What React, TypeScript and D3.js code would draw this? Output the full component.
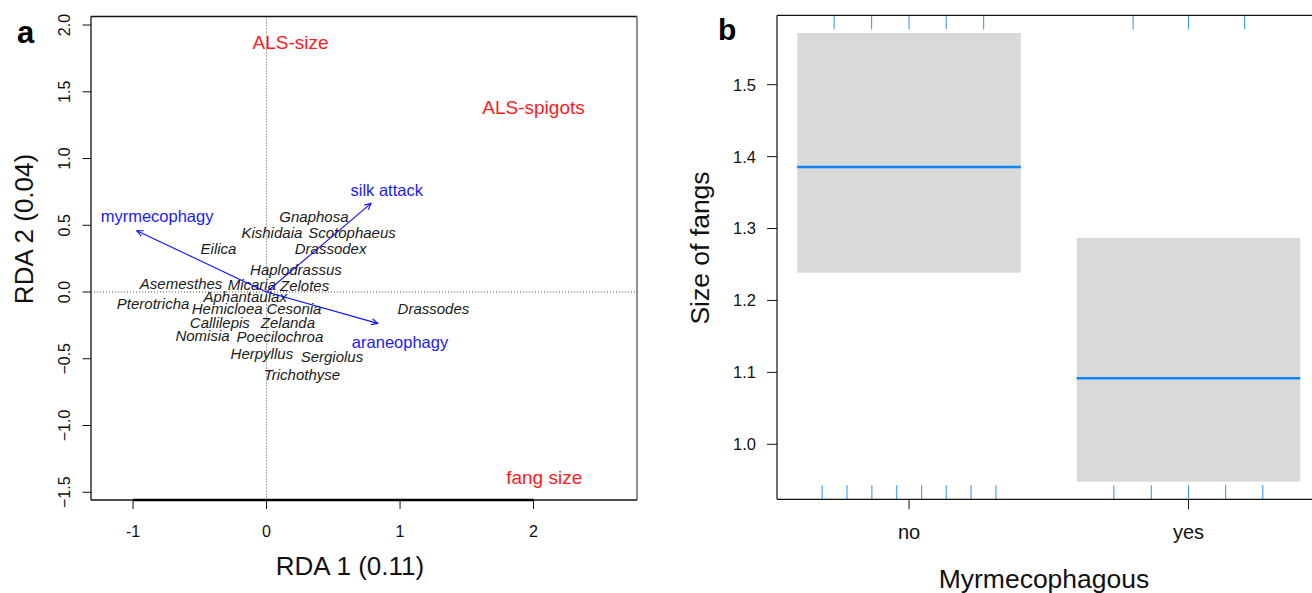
import React from 'react';
import * as d3 from 'd3';

// ---- panel a: RDA biplot ----
const speciesNames = ['Gnaphosa', 'Kishidaia', 'Scotophaeus', 'Eilica', 'Drassodex', 'Haplodrassus',
  'Asemesthes', 'Micaria', 'Zelotes', 'Aphantaulax', 'Pterotricha', 'Hemicloea', 'Cesonia', 'Drassodes',
  'Callilepis', 'Zelanda', 'Nomisia', 'Poecilochroa', 'Herpyllus', 'Sergiolus', 'Trichothyse'];
const speciesX = [0.355, 0.04, 0.64, -0.36, 0.48, 0.22, -0.64, -0.11, 0.285, -0.16, -0.85, -0.295, 0.205, 1.25,
  -0.35, 0.16, -0.48, 0.10, -0.035, 0.49, 0.265];
const speciesY = [0.56, 0.44, 0.44, 0.32, 0.322, 0.165, 0.058, 0.05, 0.045, -0.035, -0.092, -0.13, -0.125, -0.13,
  -0.235, -0.235, -0.33, -0.335, -0.465, -0.485, -0.622];

const envNames = ['silk attack', 'myrmecophagy', 'araneophagy'];
const envTipX = [0.783, -0.972, 0.833];
const envTipY = [0.664, 0.459, -0.235];
const envLabelX = [0.90, -0.82, 1.0];
const envLabelY = [0.757, 0.562, -0.382];

const traitNames = ['ALS-size', 'ALS-spigots', 'fang size'];
const traitX = [0.18, 2.0, 2.08];
const traitY = [1.867, 1.38, -1.39];

const rdaXTicks = [-1, 0, 1, 2];
const rdaYTicks = [-1.5, -1.0, -0.5, 0.0, 0.5, 1.0, 1.5, 2.0];

// ---- panel b: effect plot ----
const groups = ['no', 'yes'];
const fitValues = [1.3856, 1.0918];
const lowerCI = [1.2386, 0.948];
const upperCI = [1.572, 1.287];
const rugTop = [0.732, 0.866, 1.0, 1.133, 1.267, 1.802, 2.0, 2.201];
const rugBottom = [0.689, 0.778, 0.867, 0.956, 1.045, 1.133, 1.222, 1.311, 1.733, 1.867, 2.0, 2.133, 2.266];
const fangTicks = [1.0, 1.1, 1.2, 1.3, 1.4, 1.5];

const FONT = '"Liberation Sans", Arial, Helvetica, sans-serif';

function arrowHead(x1: number, y1: number, x2: number, y2: number, len = 7) {
  const a = Math.atan2(y2 - y1, x2 - x1);
  const s = Math.PI / 7;
  const p1 = [x2 - len * Math.cos(a - s), y2 - len * Math.sin(a - s)];
  const p2 = [x2 - len * Math.cos(a + s), y2 - len * Math.sin(a + s)];
  return `M${p1[0]},${p1[1]}L${x2},${y2}L${p2[0]},${p2[1]}`;
}

function PanelA() {
  const left = 91, right = 637, top = 16.5, bottom = 500;
  const x = d3.scaleLinear().domain([-1.315, 2.775]).range([left, right]);
  const y = d3.scaleLinear().domain([-1.558, 2.064]).range([bottom, top]);
  const fmt = d3.format('.1f');

  return (
    <g fontFamily={FONT}>
      <text x={17} y={43} fontSize={31} fontWeight="bold" fill="#000">a</text>

      {/* reference lines through origin */}
      <line x1={x(0)} x2={x(0)} y1={top} y2={bottom} stroke="#444" strokeWidth={0.9} strokeDasharray="1,2" />
      <line x1={left} x2={right} y1={y(0)} y2={y(0)} stroke="#444" strokeWidth={0.9} strokeDasharray="1,2" />

      {/* species scores */}
      {speciesNames.map((n, i) => (
        <text key={n} x={x(speciesX[i])} y={y(speciesY[i])} dy="0.33em" textAnchor="middle"
          fontSize={15} fontStyle="italic" fill="#1a1a1a">{n}</text>
      ))}

      {/* environmental arrows */}
      {envNames.map((n, i) => {
        const x0 = x(0), y0 = y(0), x1 = x(envTipX[i]), y1 = y(envTipY[i]);
        return (
          <g key={n}>
            <line x1={x0} y1={y0} x2={x1} y2={y1} stroke="#1010ff" strokeWidth={1.1} />
            <path d={arrowHead(x0, y0, x1, y1)} fill="none" stroke="#1010ff" strokeWidth={1.1} />
            <text x={x(envLabelX[i])} y={y(envLabelY[i])} dy="0.33em" textAnchor="middle"
              fontSize={16.5} fill="#1a1aff">{n}</text>
          </g>
        );
      })}

      {/* trait labels */}
      {traitNames.map((n, i) => (
        <text key={n} x={x(traitX[i])} y={y(traitY[i])} dy="0.33em" textAnchor="middle"
          fontSize={19} fill="#ff1a1a">{n}</text>
      ))}

      {/* box */}
      <line x1={left} x2={right} y1={top} y2={top} stroke="#111" strokeWidth={1.3} />
      <line x1={left} x2={left} y1={top} y2={bottom} stroke="#111" strokeWidth={1.3} />
      <line x1={right} x2={right} y1={top} y2={bottom} stroke="#777" strokeWidth={1.6} />
      <line x1={left} x2={right} y1={bottom} y2={bottom} stroke="#111" strokeWidth={1.3} />

      {/* x axis */}
      <line x1={x(-1)} x2={x(2)} y1={bottom} y2={bottom} stroke="#000" strokeWidth={2.4} />
      {rdaXTicks.map(t => (
        <g key={t}>
          <line x1={x(t)} x2={x(t)} y1={bottom} y2={bottom + 9} stroke="#111" strokeWidth={1} />
          <text x={x(t)} y={537} textAnchor="middle" fontSize={16} fill="#111">{t}</text>
        </g>
      ))}
      <text x={350} y={575} textAnchor="middle" fontSize={26} fill="#111">RDA 1 (0.11)</text>

      {/* y axis */}
      {rdaYTicks.map(t => (
        <g key={t}>
          <line x1={left - 8.5} x2={left} y1={y(t)} y2={y(t)} stroke="#111" strokeWidth={1} />
          <text transform={`translate(70,${y(t)}) rotate(-90)`} textAnchor="middle" fontSize={16} fill="#111">{fmt(t)}</text>
        </g>
      ))}
      <text transform={`translate(33,229) rotate(-90)`} textAnchor="middle" fontSize={26} fill="#111">RDA 2 (0.04)</text>
    </g>
  );
}

function PanelB() {
  const left = 777, right = 1320.5, top = 15.3, bottom = 499.3;
  const x = d3.scaleLinear().domain([0.5275, 2.4725]).range([left, right]);
  const y = d3.scaleLinear().domain([0.9235, 1.5965]).range([bottom, top]);
  const half = 0.4;
  const fmt = d3.format('.1f');

  return (
    <g fontFamily={FONT}>
      <text x={718} y={40} fontSize={30} fontWeight="bold" fill="#000">b</text>

      {groups.map((g, i) => (
        <g key={g}>
          <rect x={x(i + 1 - half)} width={x(i + 1 + half) - x(i + 1 - half)}
            y={y(upperCI[i])} height={y(lowerCI[i]) - y(upperCI[i])} fill="#d9d9d9" />
          <line x1={x(i + 1 - half)} x2={x(i + 1 + half)} y1={y(fitValues[i])} y2={y(fitValues[i])}
            stroke="#0a84ff" strokeWidth={2.6} />
        </g>
      ))}

      {rugTop.map((v, i) => (
        <line key={'t' + i} x1={x(v)} x2={x(v)} y1={top} y2={top + 14} stroke="#3a9cff" strokeWidth={1.1} />
      ))}
      {rugBottom.map((v, i) => (
        <line key={'b' + i} x1={x(v)} x2={x(v)} y1={bottom - 14} y2={bottom} stroke="#3a9cff" strokeWidth={1.1} />
      ))}

      {/* frame */}
      <line x1={left} x2={right} y1={top} y2={top} stroke="#111" strokeWidth={1.3} />
      <line x1={left} x2={left} y1={top} y2={bottom} stroke="#222" strokeWidth={1.3} />
      <line x1={left} x2={right} y1={bottom} y2={bottom} stroke="#111" strokeWidth={1.3} />

      {fangTicks.map(t => (
        <g key={t}>
          <line x1={left - 10} x2={left} y1={y(t)} y2={y(t)} stroke="#111" strokeWidth={1} />
          <text x={756} y={y(t)} dy="0.36em" textAnchor="end" fontSize={16.5} fill="#111">{fmt(t)}</text>
        </g>
      ))}
      {groups.map((g, i) => (
        <g key={g}>
          <line x1={x(i + 1)} x2={x(i + 1)} y1={bottom} y2={bottom + 10} stroke="#111" strokeWidth={1} />
          <text x={x(i + 1)} y={539} textAnchor="middle" fontSize={20} fill="#111">{g}</text>
        </g>
      ))}
      <text x={1044} y={588} textAnchor="middle" fontSize={26.5} fill="#111">Myrmecophagous</text>
      <text transform={`translate(709,248) rotate(-90)`} textAnchor="middle" fontSize={26.5} fill="#111">Size of fangs</text>
    </g>
  );
}

export default function App() {
  return (
    <svg width={1312} height={593} style={{ position: 'absolute', left: 0, top: 0, background: '#fff' }}>
      <rect width={1312} height={593} fill="#fff" />
      <PanelA />
      <PanelB />
    </svg>
  );
}
